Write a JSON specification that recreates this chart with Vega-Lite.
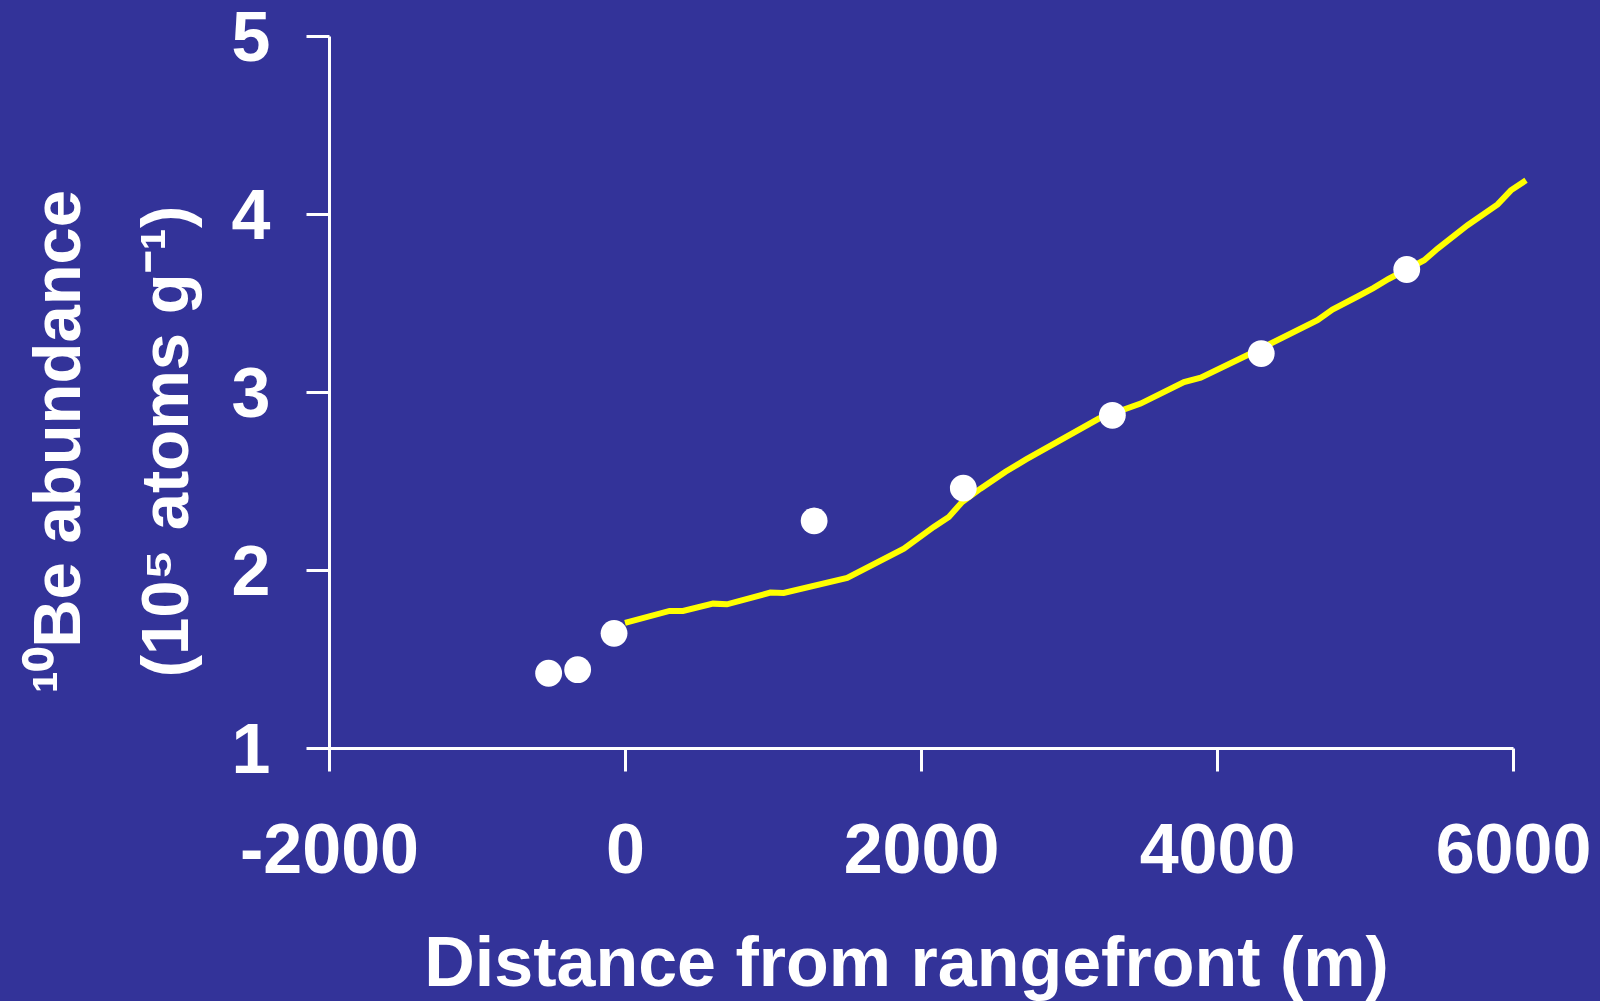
{
  "$schema": "https://vega.github.io/schema/vega-lite/v6.json",
  "width": 1184,
  "height": 712,
  "autosize": "none",
  "padding": {"left": 329, "top": 36, "right": 87, "bottom": 253},
  "background": "#333399",
  "config": {"view": {"stroke": null}, "font": "Liberation Sans"},
  "datasets": {
    "model": [
      {"distance": 0, "abundance": 1.703},
      {"distance": 301, "abundance": 1.77},
      {"distance": 392, "abundance": 1.77},
      {"distance": 595, "abundance": 1.811},
      {"distance": 689, "abundance": 1.807},
      {"distance": 982, "abundance": 1.873},
      {"distance": 1072, "abundance": 1.871},
      {"distance": 1501, "abundance": 1.955},
      {"distance": 1884, "abundance": 2.12},
      {"distance": 2086, "abundance": 2.242},
      {"distance": 2188, "abundance": 2.298},
      {"distance": 2278, "abundance": 2.382},
      {"distance": 2402, "abundance": 2.457},
      {"distance": 2571, "abundance": 2.552},
      {"distance": 2710, "abundance": 2.621},
      {"distance": 3202, "abundance": 2.851},
      {"distance": 3484, "abundance": 2.935},
      {"distance": 3777, "abundance": 3.056},
      {"distance": 3890, "abundance": 3.081},
      {"distance": 4228, "abundance": 3.216},
      {"distance": 4679, "abundance": 3.403},
      {"distance": 4780, "abundance": 3.463},
      {"distance": 4953, "abundance": 3.538},
      {"distance": 5056, "abundance": 3.584},
      {"distance": 5159, "abundance": 3.635},
      {"distance": 5400, "abundance": 3.74},
      {"distance": 5491, "abundance": 3.806},
      {"distance": 5693, "abundance": 3.937},
      {"distance": 5896, "abundance": 4.054},
      {"distance": 5986, "abundance": 4.133},
      {"distance": 6088, "abundance": 4.189}
    ],
    "samples": [
      {"distance": -516, "abundance": 1.42},
      {"distance": -320, "abundance": 1.44},
      {"distance": -74, "abundance": 1.644},
      {"distance": 1278, "abundance": 2.276},
      {"distance": 2286, "abundance": 2.46},
      {"distance": 3293, "abundance": 2.869},
      {"distance": 4299, "abundance": 3.216},
      {"distance": 5282, "abundance": 3.688}
    ]
  },
  "layer": [
    {
      "data": {"name": "model"},
      "mark": {"type": "line", "color": "#FFFF00", "strokeWidth": 6, "clip": false},
      "encoding": {
        "x": {
          "field": "distance",
          "type": "quantitative",
          "scale": {"domain": [-2000, 6000], "nice": false, "zero": false},
          "axis": {
            "values": [-2000, 0, 2000, 4000, 6000],
            "labelExpr": "'' + datum.value",
            "title": "Distance from rangefront (m)",
            "grid": false,
            "domainColor": "white",
            "domainWidth": 3,
            "tickColor": "white",
            "tickWidth": 3,
            "tickSize": 23,
            "labelColor": "white",
            "labelFont": "Liberation Sans",
            "labelFontWeight": "bold",
            "labelFontSize": 70,
            "labelPadding": 46,
            "labelFlush": false,
            "labelOverlap": false,
            "titleColor": "white",
            "titleFont": "Liberation Sans",
            "titleFontWeight": "bold",
            "titleFontSize": 70,
            "titleX": 577,
            "titleY": 237,
            "titleBaseline": "alphabetic",
            "titleAlign": "center"
          }
        },
        "y": {
          "field": "abundance",
          "type": "quantitative",
          "scale": {"domain": [1, 5], "nice": false, "zero": false},
          "axis": {
            "values": [1, 2, 3, 4, 5],
            "labelExpr": "'' + datum.value",
            "title": ["¹⁰Be abundance", "(10⁵ atoms g⁻¹)"],
            "grid": false,
            "domainColor": "white",
            "domainWidth": 3,
            "tickColor": "white",
            "tickWidth": 3,
            "tickSize": 23,
            "labelColor": "white",
            "labelFont": "Liberation Sans",
            "labelFontWeight": "bold",
            "labelFontSize": 70,
            "labelPadding": 36,
            "labelOffset": 3,
            "labelFlush": false,
            "labelOverlap": false,
            "titleColor": "white",
            "titleFont": "Liberation Sans",
            "titleFontWeight": "bold",
            "titleFontSize": 67,
            "titleAngle": 270,
            "titleX": -250,
            "titleY": 405,
            "titleBaseline": "alphabetic",
            "titleAlign": "center",
            "titleLineHeight": 108
          }
        }
      }
    },
    {
      "data": {"name": "samples"},
      "mark": {"type": "circle", "color": "white", "opacity": 1, "size": 720},
      "encoding": {
        "x": {"field": "distance", "type": "quantitative"},
        "y": {"field": "abundance", "type": "quantitative"}
      }
    }
  ]
}
